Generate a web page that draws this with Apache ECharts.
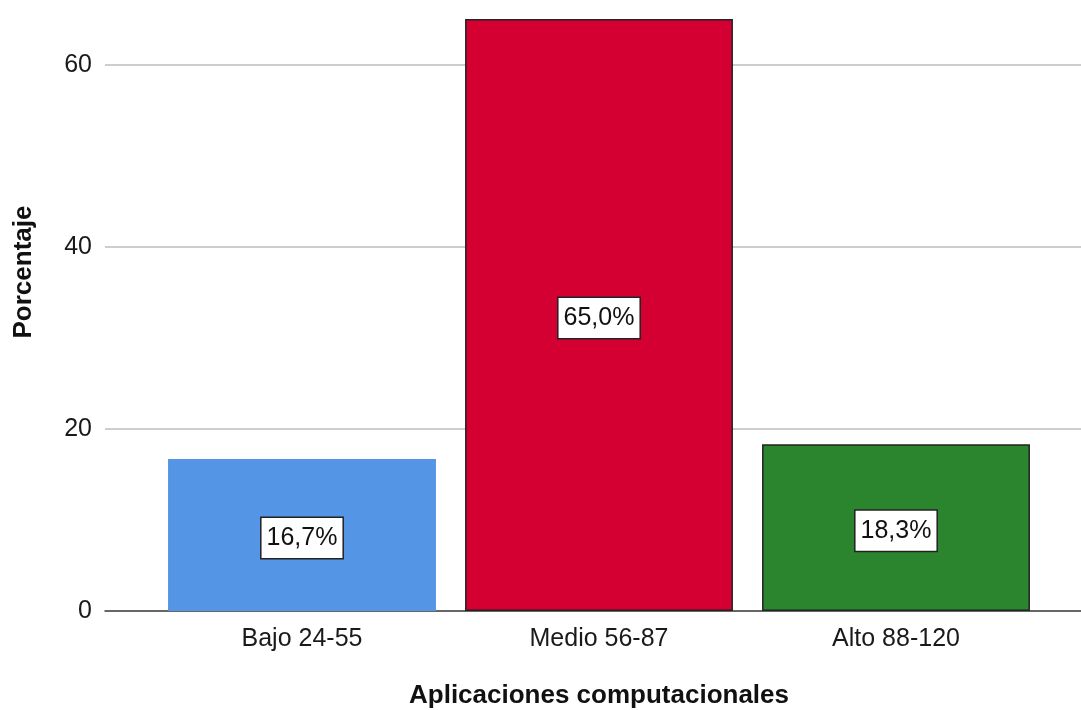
<!DOCTYPE html>
<html>
<head>
<meta charset="utf-8">
<script src="https://cdn.jsdelivr.net/npm/echarts@6/dist/echarts.min.js"></script>
<style>
  html, body { margin: 0; padding: 0; background: #ffffff; }
  #chart { width: 1081px; height: 710px; }
</style>
</head>
<body>
<div id="chart"></div>
<script>
// Percentage of respondents per level of "Aplicaciones computacionales"
const categories = ['Bajo 24-55', 'Medio 56-87', 'Alto 88-120'];
const percentages = [16.7, 65.0, 18.3];
const barColors = ['#5595e5', '#d50032', '#2b842e'];
const barBorders = ['#5595e5', '#222222', '#222222'];
const yTicks = [0, 20, 40, 60];

const FONT = '"Liberation Sans", Arial, sans-serif';
const Y_MAX = 66;

const chart = echarts.init(document.getElementById('chart'), null, { renderer: 'canvas' });

const option = {
  backgroundColor: '#ffffff',
  animation: false,
  grid: [
    // full-width frame: gridlines, value labels and baseline
    { left: 105, right: 0, top: 10, bottom: 99, containLabel: false, outerBoundsMode: 'none' },
    // inner band holding the three bars
    { left: 153.5, right: 36.5, top: 10, bottom: 99, containLabel: false, outerBoundsMode: 'none' }
  ],
  xAxis: [
    {
      gridIndex: 0, type: 'value', min: 0, max: 1,
      axisLine: { show: true, lineStyle: { color: '#444444', width: 1.5 } },
      axisTick: { show: false }, axisLabel: { show: false }, splitLine: { show: false }
    },
    {
      gridIndex: 1, type: 'category', data: categories,
      axisLine: { show: false }, axisTick: { show: false },
      axisLabel: { color: '#1a1a1a', fontFamily: FONT, fontSize: 25, margin: 16 },
      name: 'Aplicaciones computacionales',
      nameLocation: 'middle', nameGap: 72,
      nameTextStyle: { color: '#111111', fontFamily: FONT, fontSize: 26, fontWeight: 'bold' }
    }
  ],
  yAxis: [
    {
      gridIndex: 0, type: 'value', min: 0, max: Y_MAX, interval: 20,
      axisLine: { show: false }, axisTick: { show: false },
      axisLabel: {
        color: '#1a1a1a', fontFamily: FONT, fontSize: 25, margin: 13,
        padding: [6, 0, 0, 0],
        showMaxLabel: false,
        formatter: v => (yTicks.indexOf(v) >= 0 ? String(v) : '')
      },
      splitLine: { show: true, showMaxLine: false, lineStyle: { color: '#bdbdbd', width: 1.5 } }
    },
    {
      gridIndex: 1, type: 'value', min: 0, max: Y_MAX, show: false,
      splitLine: { show: false }
    }
  ],
  graphic: [
    {
      type: 'text', x: 24, y: 272, rotation: Math.PI / 2,
      style: {
        text: 'Porcentaje', fill: '#111111',
        font: 'bold 26px ' + FONT,
        align: 'center', verticalAlign: 'middle'
      }
    }
  ],
  series: [
    {
      type: 'bar', xAxisIndex: 1, yAxisIndex: 1,
      barCategoryGap: '9.8%',
      data: percentages.map((v, i) => ({
        value: v,
        itemStyle: { color: barColors[i], borderColor: barBorders[i], borderWidth: 1.5 }
      })),
      label: {
        show: true, position: 'inside', offset: [0, 3],
        formatter: p => p.value.toFixed(1).replace('.', ',') + '%',
        color: '#111111', fontFamily: FONT, fontSize: 25,
        backgroundColor: '#ffffff', borderColor: '#222222', borderWidth: 1.5,
        padding: [8, 5, 7, 5]
      }
    }
  ]
};

chart.setOption(option);
</script>
</body>
</html>
